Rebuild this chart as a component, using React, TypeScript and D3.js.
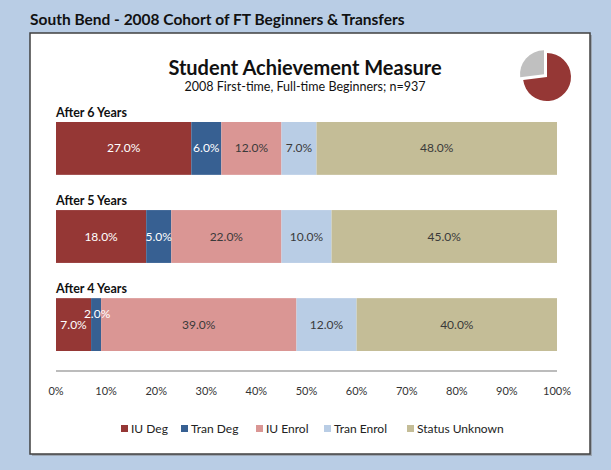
import React from "react";
import * as d3 from "d3";

const rows = ["After 6 Years", "After 5 Years", "After 4 Years"];
const seriesNames = ["IU Deg", "Tran Deg", "IU Enrol", "Tran Enrol", "Status Unknown"];
const seriesColors = ["#953735", "#376092", "#da9694", "#b9cde5", "#c4bd97"];
const labelColors = ["#ffffff", "#ffffff", "#3a3a3a", "#3a3a3a", "#3a3a3a"];
const iuDeg = [27, 18, 7];
const tranDeg = [6, 5, 2];
const iuEnrol = [12, 22, 39];
const tranEnrol = [7, 10, 12];
const statusUnknown = [48, 45, 40];
const xTicks = [0, 10, 20, 30, 40, 50, 60, 70, 80, 90, 100];
const pieValues = [73, 27];
const pieColors = ["#953735", "#c0c0c0"];

const W = 611;
const H = 470;
const FONT = "Lato, 'Open Sans', sans-serif";

export default function App() {
  const x = d3.scaleLinear().domain([0, 100]).range([56, 557]);
  const y = d3.scaleBand<string>().domain(rows).range([122, 351]).paddingInner(0.4).paddingOuter(0);
  const series = [iuDeg, tranDeg, iuEnrol, tranEnrol, statusUnknown];

  const table = rows.map((r, i) => {
    const o: Record<string, any> = { row: r };
    seriesNames.forEach((s, j) => (o[s] = series[j][i]));
    return o;
  });
  const stacked = d3.stack<any>().keys(seriesNames)(table);

  const pie = d3.pie<number>().sort(null).startAngle(0).endAngle(2 * Math.PI)(pieValues);
  const arc = d3.arc<d3.PieArcDatum<number>>().innerRadius(0).outerRadius(24);
  const pcx = 547;
  const pcy = 77;

  const segs = stacked.flatMap((s, j) =>
    s.map((d, i) => {
      const r = rows[i];
      return {
        j,
        i,
        x0: x(d[0]),
        x1: x(d[1]),
        yy: y(r) as number,
        bw: y.bandwidth(),
        v: d[1] - d[0],
      };
    })
  );

  return (
    <svg width={W} height={H} style={{ position: "absolute", left: 0, top: 0 }}>
      <rect x={0} y={0} width={W} height={H} fill="#b9cde5" />
      <text x={30} y={25} fontFamily={FONT} fontWeight="bold" fontSize={15.5} fill="#111">
        South Bend - 2008 Cohort of FT Beginners &amp; Transfers
      </text>
      <rect x={32} y={35} width={560} height={421} fill="#7f7f7f" opacity={0.5} />
      <rect x={30} y={33} width={560} height={421} fill="#fff" stroke="#404040" strokeWidth={1.5} />
      <text x={305} y={75} textAnchor="middle" fontFamily={FONT} fontWeight="bold" fontSize={20} fill="#111">
        Student Achievement Measure
      </text>
      <text x={305} y={91} textAnchor="middle" fontFamily={FONT} fontSize={12.5} fill="#111">
        2008 First-time, Full-time Beginners; n=937
      </text>
      {pie.map((p, i) => {
        const [cx, cy] = arc.centroid(p);
        const len = Math.hypot(cx, cy) || 1;
        const off = i === 1 ? 4 : 0;
        return (
          <path
            key={i}
            d={arc(p) || ""}
            fill={pieColors[i]}
            transform={`translate(${pcx + (cx / len) * off},${pcy + (cy / len) * off})`}
          />
        );
      })}
      {rows.map((r) => (
        <text key={r} x={x(0)} y={(y(r) as number) - 5} fontFamily={FONT} fontWeight="bold" fontSize={12.5} fill="#111">
          {r}
        </text>
      ))}
      {segs.map((s) => (
        <rect key={`r${s.j}-${s.i}`} x={s.x0} y={s.yy} width={s.x1 - s.x0} height={s.bw} fill={seriesColors[s.j]} />
      ))}
      {segs.map((s) => {
        const small = s.v <= 2;
        return (
          <text
            key={`t${s.j}-${s.i}`}
            x={(s.x0 + s.x1) / 2 + (small ? 1 : 0)}
            y={s.yy + s.bw / 2 + 4 - (small ? 11 : 0)}
            textAnchor="middle"
            fontFamily={FONT}
            fontSize={12}
            fill={labelColors[s.j]}
          >
            {`${s.v.toFixed(1)}%`}
          </text>
        );
      })}
      <line x1={x(0)} x2={x(100)} y1={371} y2={371} stroke="#a6a6a6" strokeWidth={1.5} />
      {xTicks.map((t) => (
        <text key={t} x={x(t)} y={395} textAnchor="middle" fontFamily={FONT} fontSize={11} fill="#333">
          {`${t}%`}
        </text>
      ))}
      {(() => {
        const starts = [121, 181, 256, 324, 407];
        return seriesNames.map((s, j) => (
          <g key={s}>
            <rect x={starts[j]} y={425} width={7} height={7} fill={seriesColors[j]} />
            <text x={starts[j] + 10} y={433} fontFamily={FONT} fontSize={12} fill="#222">
              {s}
            </text>
          </g>
        ));
      })()}
    </svg>
  );
}
